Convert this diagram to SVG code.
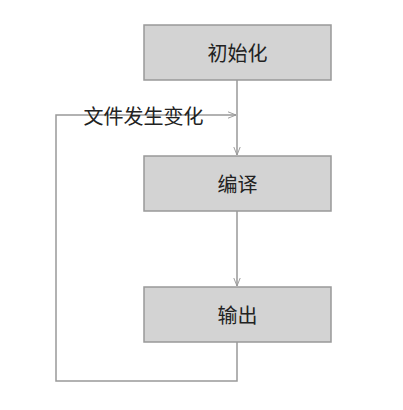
<svg xmlns="http://www.w3.org/2000/svg" width="403" height="410" viewBox="0 0 403 410">
<style>
.box{fill:#d3d3d3;stroke:#999;stroke-width:1.5}
.lbl{font-family:"Noto Sans CJK SC","Noto Sans",sans-serif;font-size:20px;fill:#222;text-anchor:middle;dominant-baseline:central}
.ln{fill:none;stroke:#999;stroke-width:1.5}
</style>
<defs>
<marker id="arr" viewBox="0 0 10 10" refX="10" refY="5" markerWidth="8" markerHeight="8" markerUnits="userSpaceOnUse" orient="auto">
<path d="M0,1 L10,5 L0,9" fill="none" stroke="#999" stroke-width="1.2"/>
</marker>
</defs>
<rect width="403" height="410" fill="#fff"/>
<g id="connectors">
<line class="ln" x1="237" y1="80" x2="237" y2="155" marker-end="url(#arr)"/>
<line class="ln" x1="237" y1="211" x2="237" y2="286" marker-end="url(#arr)"/>
<path class="ln" d="M237,342 V381 H56 V115 H236" marker-end="url(#arr)"/>
<text class="lbl" x="143.5" y="115">文件发生变化</text>
</g>
<g id="init"><rect class="box" x="144" y="25" width="187" height="55"/><text class="lbl" x="237.5" y="52">初始化</text></g>
<g id="compile"><rect class="box" x="144" y="156" width="187" height="55"/><text class="lbl" x="237.5" y="183">编译</text></g>
<g id="output"><rect class="box" x="144" y="287" width="187" height="55"/><text class="lbl" x="237.5" y="314">输出</text></g>
</svg>
